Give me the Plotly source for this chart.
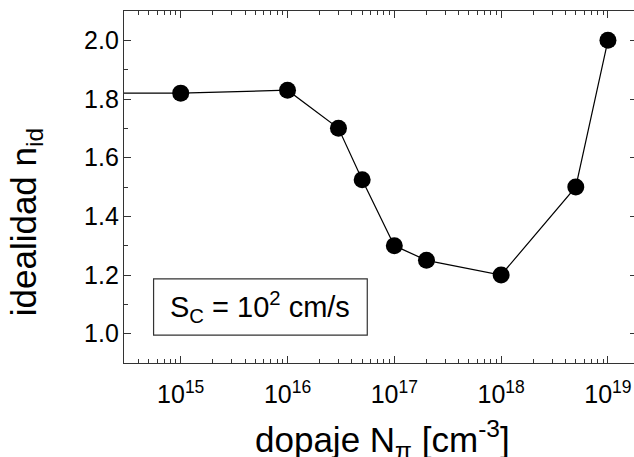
import plotly.graph_objects as go

# Data
doping = [1e14, 1e15, 1e16, 3e16, 5e16, 1e17, 2e17, 1e18, 5e18, 1e19]
ideality = [1.82, 1.82, 1.83, 1.70, 1.525, 1.30, 1.25, 1.20, 1.50, 2.00]
x_tick_vals = [1e15, 1e16, 1e17, 1e18, 1e19]
x_tick_text = ["10<sup>15</sup>", "10<sup>16</sup>", "10<sup>17</sup>", "10<sup>18</sup>", "10<sup>19</sup>"]
y_tick_vals = [1.0, 1.2, 1.4, 1.6, 1.8, 2.0]
y_tick_text = ["1.0", "1.2", "1.4", "1.6", "1.8", "2.0"]
label_text = "S<sub>C</sub> = 10<sup>2</sup> cm/s"
x_title = "dopaje N<sub>π</sub> [cm<sup>-3</sup>]"
y_title = "idealidad n<sub>id</sub>"

FONT = "Liberation Sans, Arial, sans-serif"
AX = "#333333"

x_range = [14.469, 19.244]
y_range = [0.9, 2.1]
x_minor = [float(m) * 10.0 ** e for e in range(14, 20) for m in range(2, 10)]
y_minor = [round(0.9 + 0.2 * i, 2) for i in range(7)]

fig = go.Figure()
fig.add_trace(go.Scatter(
    x=doping, y=ideality, mode="lines+markers",
    line=dict(color="black", width=1.2),
    marker=dict(color="black", size=17),
    cliponaxis=True, showlegend=False, hoverinfo="skip",
))
# invisible trace to host the mirrored axes
fig.add_trace(go.Scatter(
    x=doping, y=ideality, mode="lines", xaxis="x2", yaxis="y2",
    line=dict(width=0), opacity=0, showlegend=False, hoverinfo="skip",
))

fig.update_layout(
    width=634, height=457,
    margin=dict(l=124, r=0, t=11, b=94, autoexpand=False),
    paper_bgcolor="white", plot_bgcolor="white",
    font=dict(family=FONT, color="black"),
    xaxis=dict(
        type="log", range=x_range, showgrid=False, zeroline=False,
        showline=True, linecolor=AX, linewidth=1.3,
        ticks="inside", ticklen=7, tickcolor=AX, tickwidth=1.2,
        tickvals=x_tick_vals, ticktext=x_tick_text,
        tickfont=dict(size=25, family=FONT, color="black"),
        ticklabelstandoff=9,
        minor=dict(tickvals=x_minor, ticks="inside", ticklen=4, tickcolor=AX, tickwidth=1, showgrid=False),
        automargin=False,
    ),
    xaxis2=dict(
        type="log", range=x_range, overlaying="x", side="top", anchor="y",
        showgrid=False, zeroline=False, showline=True, linecolor=AX, linewidth=1.3,
        ticks="inside", ticklen=7, tickcolor=AX, tickwidth=1.2,
        tickvals=x_tick_vals, showticklabels=False,
        minor=dict(tickvals=x_minor, ticks="inside", ticklen=4, tickcolor=AX, tickwidth=1, showgrid=False),
        automargin=False,
    ),
    yaxis=dict(
        range=y_range, showgrid=False, zeroline=False,
        showline=True, linecolor=AX, linewidth=1.3,
        ticks="inside", ticklen=7, tickcolor=AX, tickwidth=1.2,
        tickvals=y_tick_vals, ticktext=y_tick_text,
        tickfont=dict(size=25, family=FONT, color="black"),
        ticklabelstandoff=-1,
        minor=dict(tickvals=y_minor, ticks="inside", ticklen=4, tickcolor=AX, tickwidth=1, showgrid=False),
        automargin=False,
    ),
    yaxis2=dict(
        range=y_range, overlaying="y", side="right", anchor="x",
        showgrid=False, zeroline=False, showline=False,
        ticks="inside", ticklen=4, tickcolor=AX, tickwidth=1.2,
        tickvals=y_tick_vals, showticklabels=False,
        automargin=False,
    ),
)

# label box
fig.add_shape(type="rect", xref="paper", yref="paper",
              x0=0.058, x1=0.477, y0=0.079, y1=0.239,
              line=dict(color=AX, width=1.2), fillcolor="white", layer="above")
fig.add_annotation(xref="paper", yref="paper", x=0.2675, y=0.159,
                   text=label_text, showarrow=False,
                   font=dict(size=29, family=FONT, color="black"),
                   xanchor="center", yanchor="middle")

# axis titles
fig.add_annotation(xref="paper", yref="paper", x=0.506, y=-0.141,
                   text=x_title, showarrow=False,
                   font=dict(size=35, family=FONT, color="black"),
                   xanchor="center", yanchor="top")
fig.add_annotation(xref="paper", yref="paper", x=-0.192, y=0.40,
                   text=y_title, showarrow=False, textangle=-90,
                   font=dict(size=35, family=FONT, color="black"),
                   xanchor="center", yanchor="middle")

fig.write_html("out.html", config={"displayModeBar": False},
               post_script="document.body.style.margin='0px';document.body.style.overflow='hidden';")
